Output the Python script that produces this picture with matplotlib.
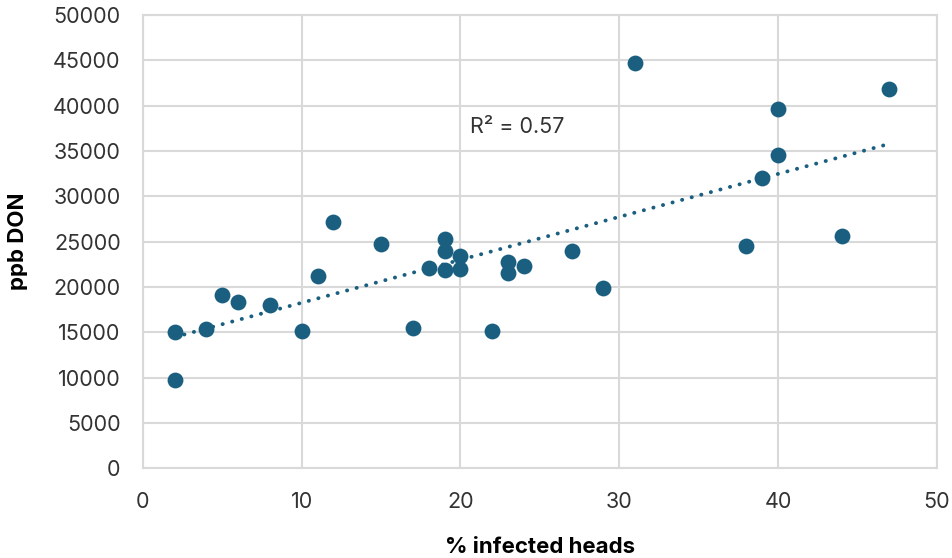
import numpy as np
import matplotlib.pyplot as plt

plt.rcParams['font.family'] = ['Inter', 'DejaVu Sans']

# % infected heads vs DON concentration (ppb)
infected_pct = [2, 2, 4, 5, 6, 8, 10, 11, 12, 15, 17, 18, 19, 19, 19, 20, 20, 22,
                23, 23, 24, 27, 29, 31, 38, 39, 40, 40, 44, 47]
don_ppb = [9700, 15000, 15400, 19100, 18300, 18000, 15100, 21200, 27150, 24700,
           15450, 22070, 25270, 23950, 21850, 23400, 21960, 15120, 22740, 21520,
           22300, 23950, 19870, 44700, 24500, 32000, 39600, 34550, 25600, 41830]

x_ticks = [0, 10, 20, 30, 40, 50]
y_ticks = list(range(0, 50001, 5000))

point_color = '#1a5f80'
grid_color = '#d9d9d9'

x = np.array(infected_pct, dtype=float)
y = np.array(don_ppb, dtype=float)

# linear trend and R^2
slope, intercept = np.polyfit(x, y, 1)
fit = slope * x + intercept
r2 = 1 - np.sum((y - fit) ** 2) / np.sum((y - y.mean()) ** 2)

fig = plt.figure(figsize=(9.53, 5.58), dpi=100)
ax = fig.add_axes([0.150, 0.161, 0.833, 0.812])

ax.scatter(x, y, s=130, color=point_color, zorder=3, linewidths=0)

xl = np.array([x.min(), x.max()])
ax.plot(xl, slope * xl + intercept, color=point_color, linewidth=2.8,
        linestyle=(0, (0.05, 2.5)), dash_capstyle='round', zorder=2)

ax.text(20.6, 37600, f"R² = {r2:.2f}", fontsize=15.5, color='#333333',
        va='center', ha='left')

ax.set_xlim(0, 50)
ax.set_ylim(0, 50000)
ax.set_xticks(x_ticks)
ax.set_yticks(y_ticks)
ax.grid(True, color=grid_color, linewidth=1.5)
ax.set_axisbelow(True)
for side in ax.spines.values():
    side.set_color(grid_color)
    side.set_linewidth(1.5)
ax.tick_params(length=0, labelsize=15.5, labelcolor='#333333')
ax.tick_params(axis='y', pad=16)
ax.tick_params(axis='x', pad=17)

ax.set_xlabel('% infected heads', fontsize=16, fontweight='bold', labelpad=18)
ax.set_ylabel('ppb DON', fontsize=16, fontweight='bold', labelpad=18)

fig.savefig('out.png', dpi=100, facecolor='white')
